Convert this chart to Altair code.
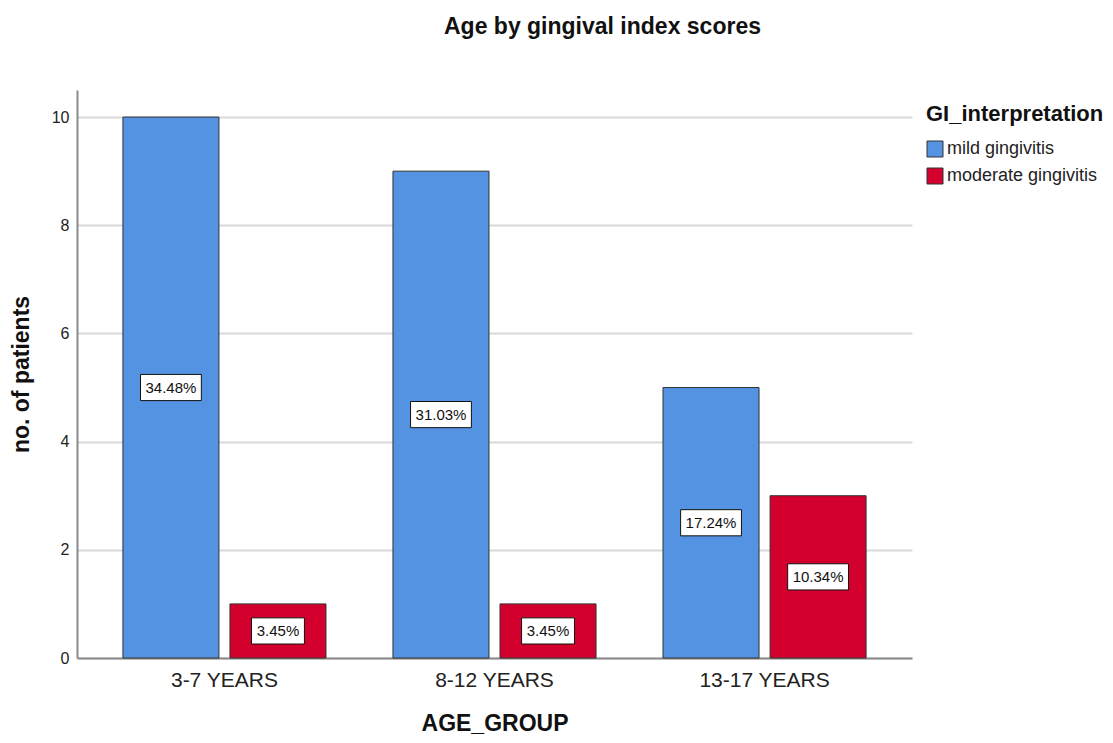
import altair as alt
import pandas as pd

age_groups = ["3-7 YEARS", "8-12 YEARS", "13-17 YEARS"]
gi_levels = ["mild gingivitis", "moderate gingivitis"]
mild_counts = [10, 9, 5]
moderate_counts = [1, 1, 3]
mild_pct = ["34.48%", "31.03%", "17.24%"]
moderate_pct = ["3.45%", "3.45%", "10.34%"]
colors = ["#5493E2", "#D3002D"]

rows = []
for i, g in enumerate(age_groups):
    rows.append({"AGE_GROUP": g, "GI": gi_levels[0], "count": mild_counts[i], "pct": mild_pct[i]})
    rows.append({"AGE_GROUP": g, "GI": gi_levels[1], "count": moderate_counts[i], "pct": moderate_pct[i]})
df = pd.DataFrame(rows)

wide_box = "M-1,-0.43L1,-0.43L1,0.43L-1,0.43Z"
narrow_box = "M-0.87,-0.43L0.87,-0.43L0.87,0.43L-0.87,0.43Z"
df["box"] = [wide_box if len(p) > 5 else narrow_box for p in df["pct"]]

FONT = "Liberation Sans"

x_enc = alt.X("AGE_GROUP:N", sort=age_groups,
              scale=alt.Scale(paddingInner=0.248, paddingOuter=0.17),
              axis=alt.Axis(title="AGE_GROUP", labelAngle=0, ticks=False,
                            labelFontSize=21, labelColor="#222", labelPadding=11,
                            titleFontSize=23, titleFontWeight="bold", titlePadding=22,
                            domainColor="#8a8a8a", domainWidth=2, grid=False))
xo_enc = alt.XOffset("GI:N", sort=gi_levels,
                     scale=alt.Scale(paddingInner=0.103, paddingOuter=0))

base = alt.Chart(df).transform_calculate(mid="datum.count / 2")

bars = base.mark_bar(stroke="#333333", strokeWidth=1).encode(
    x=x_enc,
    xOffset=xo_enc,
    y=alt.Y("count:Q", scale=alt.Scale(domain=[0, 10.5], nice=False),
            axis=alt.Axis(title="no. of patients", values=[0, 2, 4, 6, 8, 10],
                          format="d", ticks=False, labelFontSize=16,
                          labelColor="#222", labelPadding=8, titleFontSize=23,
                          titleFontWeight="bold", titlePadding=18,
                          domainColor="#8a8a8a", domainWidth=2,
                          gridColor="#d9d9d9", gridWidth=2)),
    color=alt.Color("GI:N", sort=gi_levels,
                    scale=alt.Scale(domain=gi_levels, range=colors),
                    legend=alt.Legend(title="GI_interpretation", orient="none",
                                      legendX=849, legendY=14,
                                      titleFontSize=22, titleFontWeight="bold",
                                      titleColor="#111", labelFontSize=18,
                                      labelColor="#222", symbolType="square",
                                      symbolSize=256, symbolStrokeColor="#333333",
                                      symbolStrokeWidth=1, rowPadding=7,
                                      titlePadding=14, labelOffset=3)),
)

boxes = base.mark_point(filled=True, fill="white", stroke="#111111",
                        strokeWidth=1, opacity=1, size=3700).encode(
    x=alt.X("AGE_GROUP:N", sort=age_groups),
    xOffset=alt.XOffset("GI:N", sort=gi_levels),
    y=alt.Y("mid:Q"),
    shape=alt.Shape("box:N", scale=None),
)

labels = base.mark_text(fontSize=15, color="#111111", font=FONT).encode(
    x=alt.X("AGE_GROUP:N", sort=age_groups),
    xOffset=alt.XOffset("GI:N", sort=gi_levels),
    y=alt.Y("mid:Q"),
    text="pct:N",
)

chart = alt.layer(bars, boxes, labels).properties(
    width=835, height=568,
    padding={"left": 2, "top": 8, "right": 0, "bottom": 0},
    title=alt.TitleParams("Age by gingival index scores", fontSize=23,
                          fontWeight="bold", font=FONT, color="#111",
                          anchor="middle", dx=108, offset=51),
).configure(font=FONT).configure_view(stroke=None).configure_axis(
    labelFont=FONT, titleFont=FONT, titleColor="#111"
).configure_legend(labelFont=FONT, titleFont=FONT)

chart.save("out.html", embed_options={"renderer": "svg", "actions": False})
